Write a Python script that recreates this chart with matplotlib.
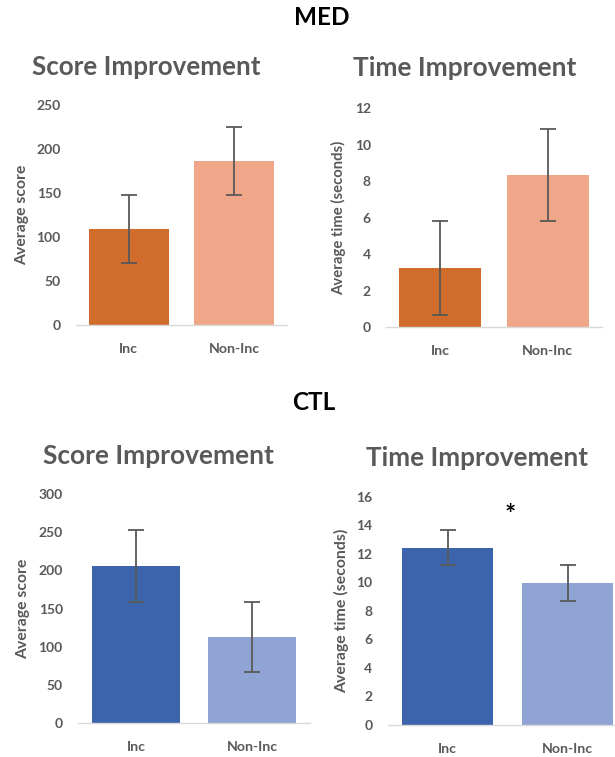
import matplotlib
matplotlib.use("Agg")
import matplotlib.pyplot as plt

plt.rcParams['font.family'] = ['Lato', 'DejaVu Sans']

categories = ["Inc", "Non-Inc"]

med_score = [109, 186]
med_score_err = [39, 38.5]
med_time = [3.25, 8.35]
med_time_err = [2.57, 2.54]

ctl_score = [206, 113]
ctl_score_err = [47, 46]
ctl_time = [12.42, 9.96]
ctl_time_err = [1.23, 1.26]

score_ticks_med = [0, 50, 100, 150, 200, 250]
time_ticks_med = [0, 2, 4, 6, 8, 10, 12]
score_ticks_ctl = [0, 50, 100, 150, 200, 250, 300]
time_ticks_ctl = [0, 2, 4, 6, 8, 10, 12, 14, 16]

med_colors = ["#D06D2D", "#F0A789"]
ctl_colors = ["#3C64AC", "#8FA3D4"]

W, H = 615, 757
fig = plt.figure(figsize=(W / 100, H / 100), dpi=100)
fig.patch.set_facecolor("white")
renderer = fig.canvas.get_renderer()

GREY = "#595959"


def px_axes(left, right, bottom, top):
    return fig.add_axes([left / W, 1 - bottom / H, (right - left) / W, (bottom - top) / H])


def fx(x):
    return x / W


def fy(y):
    return 1 - y / H


def fit_text(t, length_px, vertical=False):
    """Scale a text's font size so its long side spans length_px pixels."""
    bb = t.get_window_extent(renderer)
    cur = bb.height if vertical else bb.width
    t.set_fontsize(t.get_fontsize() * length_px / cur)
    return t


def panel(ax, values, errs, colors, ticks, title, title_xy, title_w,
          ylabel, ylabel_x, ylabel_len):
    x = list(range(len(categories)))
    ax.bar(x, values, width=0.76, color=colors, zorder=2)
    ax.errorbar(x, values, yerr=errs, fmt="none", ecolor=GREY, elinewidth=1.3,
                capsize=5.5, capthick=1.3, zorder=3)
    ax.set_xlim(-0.5, len(categories) - 0.5)
    ax.set_ylim(ticks[0], ticks[-1])
    ax.set_yticks(ticks)
    ax.set_yticklabels([str(t) for t in ticks])
    ax.set_xticks(x)
    ax.set_xticklabels(categories)
    for s in ("top", "right", "left"):
        ax.spines[s].set_visible(False)
    ax.spines["bottom"].set_color("#D9D9D9")
    ax.spines["bottom"].set_linewidth(1.0)
    ax.tick_params(axis="y", length=0, pad=11, labelsize=10, labelcolor=GREY)
    ax.tick_params(axis="x", length=0, pad=13, labelsize=10.2, labelcolor=GREY)
    for lab in ax.get_xticklabels() + ax.get_yticklabels():
        lab.set_fontweight("bold")
    ax.patch.set_alpha(0)
    pos = ax.get_position()
    yl = fig.text(fx(ylabel_x), pos.y0 + pos.height / 2, ylabel, rotation=90,
                  ha="center", va="center", fontsize=10, fontweight="bold", color=GREY)
    fit_text(yl, ylabel_len, vertical=True)
    tt = fig.text(fx(title_xy[0]), fy(title_xy[1]), title, ha="center", va="baseline",
                  fontsize=18, fontweight="bold", color=GREY)
    fit_text(tt, title_w)


ax1 = px_axes(76, 287, 325, 105)
panel(ax1, med_score, med_score_err, med_colors, score_ticks_med,
      "Score Improvement", (146, 75), 228, "Average score", 21.7, 100)

ax2 = px_axes(386, 601.7, 327.3, 108.3)
panel(ax2, med_time, med_time_err, med_colors, time_ticks_med,
      "Time Improvement", (464.5, 76), 223, "Average time (seconds)", 339, 155)

ax3 = px_axes(78, 310, 723.3, 494)
panel(ax3, ctl_score, ctl_score_err, ctl_colors, score_ticks_ctl,
      "Score Improvement", (158, 464), 230, "Average score", 22.7, 100)

ax4 = px_axes(387.7, 627.7, 724.7, 496.7)
panel(ax4, ctl_time, ctl_time_err, ctl_colors, time_ticks_ctl,
      "Time Improvement", (477.5, 466), 221, "Average time (seconds)", 342, 165)

# significance marker between the CTL time bars
ax4.text(0.52, 14.7, "*", ha="center", va="center", fontsize=19,
         fontweight="bold", color="black")

# group headings share one size
med = fig.text(fx(322), fy(25), "MED", ha="center", va="baseline",
               fontsize=15, fontweight="bold", color="black")
fit_text(med, 55)
fig.text(fx(314), fy(410), "CTL", ha="center", va="baseline",
         fontsize=med.get_fontsize(), fontweight="bold", color="black")

fig.savefig("out.png", dpi=100, facecolor="white")
